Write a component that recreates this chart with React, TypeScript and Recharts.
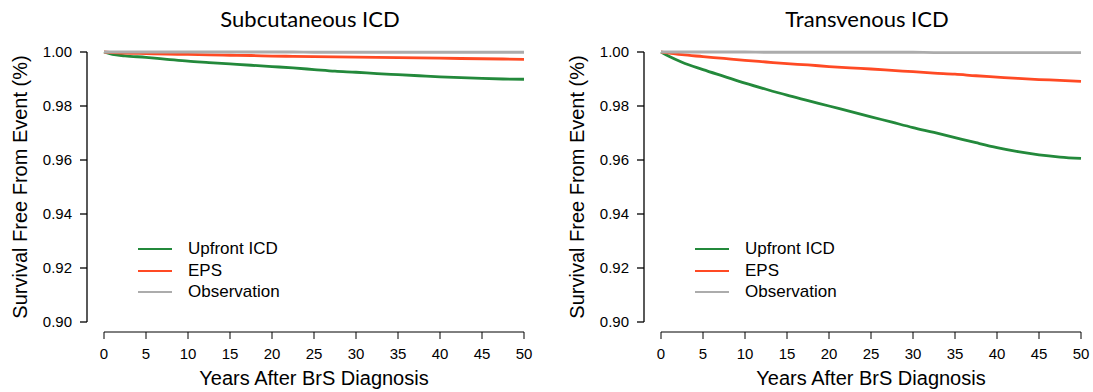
import { LineChart, Line, XAxis, YAxis, ReferenceLine, Legend } from "recharts";

// follow-up years (x) shared by both panels
const years = [0, 1, 2.5, 5, 7.5, 10, 12.5, 15, 17.5, 20, 22.5, 25, 27.5, 30, 32.5, 35, 37.5, 40, 42.5, 45, 47.5, 50];

// Subcutaneous ICD
const subqUpfront = [1.0, 0.9991, 0.9986, 0.998, 0.9973, 0.9966, 0.9961, 0.9956, 0.9951, 0.9946, 0.9941, 0.9935, 0.9929, 0.9925, 0.992, 0.9916, 0.9912, 0.9908, 0.9905, 0.9902, 0.99, 0.9899];
const subqEps = [1.0, 0.9998, 0.9996, 0.9994, 0.9992, 0.9991, 0.9989, 0.9988, 0.9987, 0.9985, 0.9984, 0.9983, 0.9982, 0.9981, 0.998, 0.9979, 0.9978, 0.9977, 0.9976, 0.9975, 0.9974, 0.9973];
const subqObs = [1.0, 1.0, 1.0, 1.0, 1.0, 1.0, 1.0, 1.0, 1.0, 1.0, 1.0, 0.9999, 0.9999, 0.9999, 0.9999, 0.9999, 0.9999, 0.9999, 0.9999, 0.9999, 0.9999, 0.9999];

// Transvenous ICD
const tvUpfront = [1.0, 0.9983, 0.9962, 0.9935, 0.991, 0.9885, 0.9862, 0.984, 0.982, 0.98, 0.978, 0.976, 0.974, 0.972, 0.9702, 0.9683, 0.9664, 0.9646, 0.9631, 0.9619, 0.9611, 0.9606];
const tvEps = [1.0, 0.9996, 0.999, 0.9983, 0.9976, 0.9969, 0.9963, 0.9957, 0.9952, 0.9946, 0.9941, 0.9937, 0.9932, 0.9927, 0.9922, 0.9918, 0.9912, 0.9907, 0.9902, 0.9898, 0.9895, 0.9891];
const tvObs = [1.0, 1.0, 1.0, 1.0, 1.0, 1.0, 0.9999, 0.9999, 0.9999, 0.9999, 0.9999, 0.9999, 0.9999, 0.9999, 0.9998, 0.9998, 0.9998, 0.9998, 0.9998, 0.9998, 0.9998, 0.9998];

const xTicks = [0, 5, 10, 15, 20, 25, 30, 35, 40, 45, 50];
const yTicks = [0.9, 0.92, 0.94, 0.96, 0.98, 1.0];

const series = [
  { key: "upfront", name: "Upfront ICD", color: "#23893b" },
  { key: "eps", name: "EPS", color: "#ff4a24" },
  { key: "obs", name: "Observation", color: "#acacac" },
];

const SANS = "'Liberation Sans', Arial, Helvetica, sans-serif";
const AXIS_GAP = 17; // R style: y axis sits detached left of the plot

function YTick({ x, y, payload }: any) {
  return (
    <g>
      <line x1={x - AXIS_GAP - 7} x2={x - AXIS_GAP} y1={y} y2={y} stroke="#000" strokeWidth={1.3} />
      <text x={x - AXIS_GAP - 15} y={y} dy="0.36em" textAnchor="end" fontSize={15} fill="#000" fontFamily={SANS}>
        {payload.value.toFixed(2)}
      </text>
    </g>
  );
}

// legend keeps the series order (recharts sorts by name otherwise)
function LegendBox({ payload }: any) {
  const items = series.map((s) => (payload || []).find((e: any) => e.value === s.name)).filter(Boolean);
  return (
    <div style={{ fontFamily: SANS, fontSize: 17, color: "#000" }}>
      {items.map((e: any) => (
        <div key={e.value} style={{ display: "flex", alignItems: "center", height: 21.8 }}>
          <span style={{ display: "inline-block", width: 34, height: 2, background: e.color, marginRight: 16 }} />
          {e.value}
        </div>
      ))}
    </div>
  );
}

function Panel({ title, upfront, eps, obs }: { title: string; upfront: number[]; eps: number[]; obs: number[] }) {
  const data = years.map((t, i) => ({ t, upfront: upfront[i], eps: eps[i], obs: obs[i] }));
  return (
    <div style={{ position: "relative", width: 557, height: 392 }}>
      <div style={{ position: "absolute", left: 104, width: 412, top: 5, textAlign: "center", fontFamily: "Lato, 'Open Sans', sans-serif", fontSize: 22, color: "#000" }}>
        {title}
      </div>
      <LineChart width={557} height={392} data={data} margin={{ top: 52, right: 33, bottom: 0, left: 0 }}>
        <XAxis
          dataKey="t" type="number" domain={[0, 50]} ticks={xTicks} height={60}
          stroke="#000" tickSize={7} tickMargin={9}
          tick={{ fill: "#000", fontSize: 15, fontFamily: SANS }}
          label={({ viewBox }: any) => (
            <text x={viewBox.x + viewBox.width / 2} y={viewBox.y + 53} textAnchor="middle" fontSize={20} fontFamily={SANS} fill="#000">
              Years After BrS Diagnosis
            </text>
          )}
        />
        <YAxis
          type="number" domain={[0.9, 1]} ticks={yTicks} width={104} padding={{ top: 0, bottom: 10 }}
          axisLine={false} tickLine={false} tickSize={0} tickMargin={0} tick={<YTick />}
          label={({ viewBox }: any) => {
            const cy = viewBox.y + (viewBox.height - 10) / 2;
            return (
              <text x={20} y={cy} transform={`rotate(-90 20 ${cy})`} dy="0.36em" textAnchor="middle" fontSize={20} fontFamily={SANS} fill="#000">
                Survival Free From Event (%)
              </text>
            );
          }}
        />
        <ReferenceLine
          segment={[{ x: 0, y: 0.9 }, { x: 0, y: 1 }]}
          shape={(p: any) => <line x1={p.x1 - AXIS_GAP} y1={p.y1} x2={p.x2 - AXIS_GAP} y2={p.y2} stroke="#000" strokeWidth={1.3} />}
        />
        {series.map((s) => (
          <Line key={s.key} dataKey={s.key} name={s.name} type="monotone" stroke={s.color} strokeWidth={2.8} dot={false} isAnimationActive={false} />
        ))}
        <Legend layout="vertical" align="center" verticalAlign="middle" content={<LegendBox />} wrapperStyle={{ left: 138, top: 238, width: 200 }} />
      </LineChart>
    </div>
  );
}

export default function App() {
  return (
    <div style={{ position: "absolute", left: 0, top: 0, width: 1093, height: 392, background: "#fff", display: "flex" }}>
      <Panel title="Subcutaneous ICD" upfront={subqUpfront} eps={subqEps} obs={subqObs} />
      <Panel title="Transvenous ICD" upfront={tvUpfront} eps={tvEps} obs={tvObs} />
    </div>
  );
}
